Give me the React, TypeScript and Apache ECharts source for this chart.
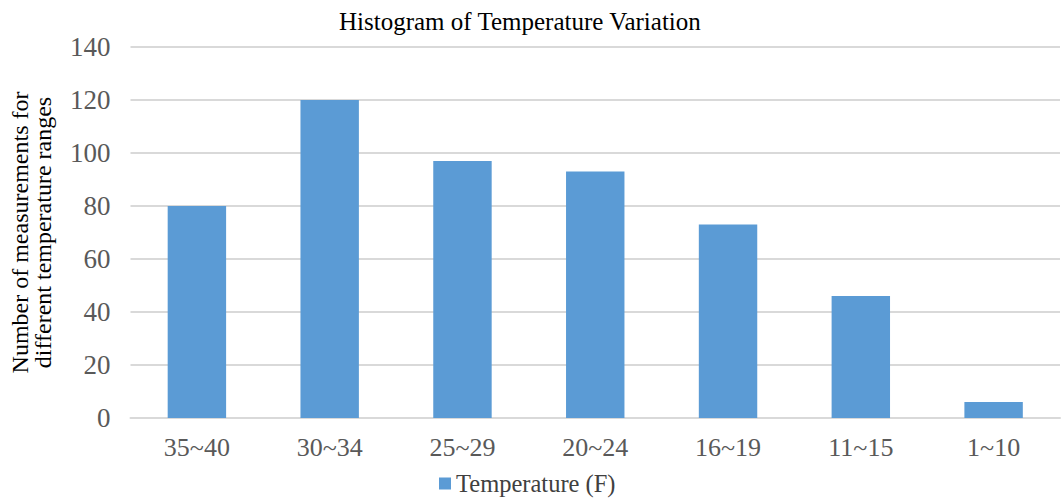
import React, { useEffect, useRef } from "react";
import * as echarts from "echarts";

const categories = ["35~40", "30~34", "25~29", "20~24", "16~19", "11~15", "1~10"];
const values = [80, 120, 97, 93, 73, 46, 6];
const seriesName = "Temperature (F)";
const titleText = "Histogram of Temperature Variation";
const yAxisName = "Number of measurements for\ndifferent temperature ranges";

const SERIF = "'Liberation Serif', 'Times New Roman', serif";

export default function App() {
  const ref = useRef<HTMLDivElement>(null);
  useEffect(() => {
    document.body.style.margin = "0";
    const chart = echarts.init(ref.current!, null, { renderer: "svg" });
    chart.setOption({
      animation: false,
      backgroundColor: "#ffffff",
      textStyle: { fontFamily: SERIF },
      title: {
        text: titleText,
        left: 334,
        top: 4,
        textStyle: { fontFamily: SERIF, fontSize: 25, fontWeight: "normal", color: "#000" },
      },
      legend: {
        data: [seriesName],
        left: 434,
        top: 466,
        itemWidth: 12,
        itemHeight: 12,
        icon: "rect",
        itemGap: 8,
        textStyle: { fontFamily: SERIF, fontSize: 24.5, color: "#404040" },
      },
      grid: { left: 130, right: 2, top: 47, bottom: 80, containLabel: false },
      xAxis: {
        type: "category",
        data: categories,
        axisLine: { lineStyle: { color: "#d9d9d9", width: 2 } },
        axisTick: { show: false },
        axisLabel: { fontFamily: SERIF, fontSize: 26, color: "#595959", margin: 16 },
      },
      yAxis: {
        type: "value",
        min: 0,
        max: 140,
        interval: 20,
        name: yAxisName,
        nameLocation: "middle",
        nameGap: 76,
        nameTextStyle: { fontFamily: SERIF, fontSize: 24, color: "#000", lineHeight: 23 },
        axisLine: { show: false },
        axisTick: { show: false },
        axisLabel: { fontFamily: SERIF, fontSize: 27, color: "#595959", margin: 20 },
        splitLine: { lineStyle: { color: "#d9d9d9", width: 2 } },
      },
      series: [
        {
          name: seriesName,
          type: "bar",
          data: values,
          barWidth: "44%",
          itemStyle: { color: "#5b9bd5" },
        },
      ],
    });
    return () => chart.dispose();
  }, []);
  return <div ref={ref} style={{ width: 1062, height: 498 }} />;
}
